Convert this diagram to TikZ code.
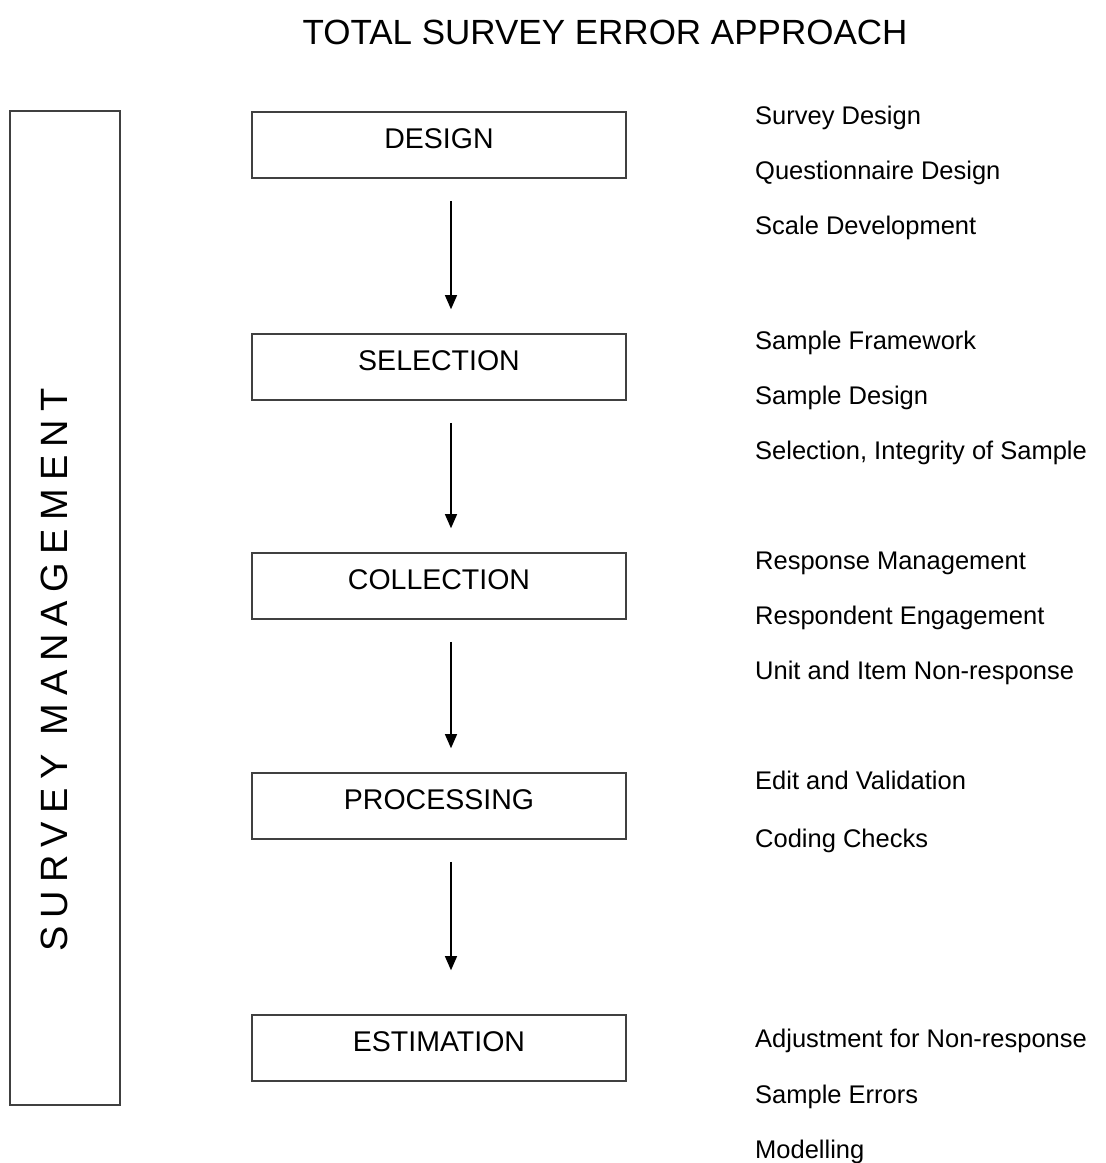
\documentclass[tikz,border=0pt]{standalone}
\usepackage{fontspec}
\setmainfont{Liberation Sans}
\usetikzlibrary{arrows.meta}
\definecolor{boxline}{HTML}{404040}
\tikzset{
  stage/.style={draw=boxline, line width=1.6pt, minimum width=374pt, minimum height=66pt, inner sep=0pt, text depth=12pt, font=\fontsize{28.5}{32}\selectfont},
  side/.style={anchor=base west, inner sep=0pt, font=\fontsize{25.5}{28}\selectfont},
  arr/.style={line width=1.1pt, -{Triangle[length=14pt,width=12pt]}, shorten <=22pt, shorten >=24pt},
}
\begin{document}
\begin{tikzpicture}[x=1pt,y=-1pt]
\path[fill=white,use as bounding box] (0,0) rectangle (1106,1163);
\node (title) at (605,32) {\fontsize{35}{40}\selectfont TOTAL SURVEY ERROR APPROACH};
\node[draw=boxline, line width=1.6pt, minimum width=110pt, minimum height=994pt, inner sep=0pt] (mgmt) at (65,608) {};
\node[rotate=90, inner sep=0pt] (mgmtlabel) at (54,670) {\fontsize{38}{40}\selectfont\addfontfeature{LetterSpace=22}SURVEY MANAGEMENT};
\node[stage] (design) at (439,145) {DESIGN};
\node[stage] (selection) at (439,367) {SELECTION};
\node[stage] (collection) at (439,586) {COLLECTION};
\node[stage] (processing) at (439,806) {PROCESSING};
\node[stage] (estimation) at (439,1048) {ESTIMATION};
\coordinate (ax) at (451,0);
\draw[arr] (design.south -| ax) -- (selection.north -| ax);
\draw[arr] (selection.south -| ax) -- (collection.north -| ax);
\draw[arr] (collection.south -| ax) -- (processing.north -| ax);
\draw[arr, shorten >=44pt] (processing.south -| ax) -- (estimation.north -| ax);
\node[side] (d1) at (755,124) {Survey Design};
\node[side] (d2) at (755,179) {Questionnaire Design};
\node[side] (d3) at (755,234) {Scale Development};
\node[side] (s1) at (755,349) {Sample Framework};
\node[side] (s2) at (755,404) {Sample Design};
\node[side] (s3) at (755,459) {Selection, Integrity of Sample};
\node[side] (c1) at (755,569) {Response Management};
\node[side] (c2) at (755,624) {Respondent Engagement};
\node[side] (c3) at (755,679) {Unit and Item Non-response};
\node[side] (p1) at (755,789) {Edit and Validation};
\node[side] (p2) at (755,847) {Coding Checks};
\node[side] (e1) at (755,1047) {Adjustment for Non-response};
\node[side] (e2) at (755,1103) {Sample Errors};
\node[side] (e3) at (755,1158) {Modelling};
\end{tikzpicture}
\end{document}
